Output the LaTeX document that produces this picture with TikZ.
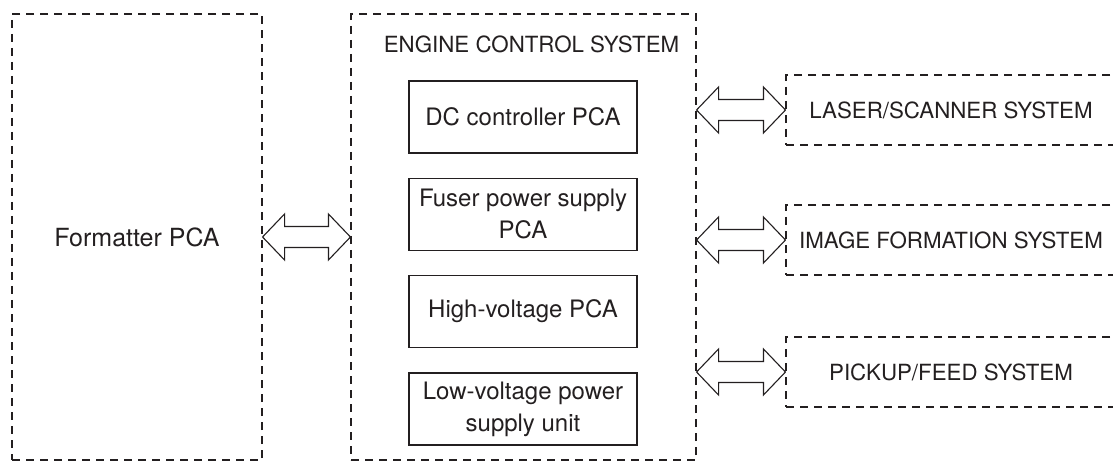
\documentclass[tikz,border=0pt]{standalone}
\usepackage{fontspec}
\setmainfont{TeX Gyre Heros}
\usepackage{tikz}
\usetikzlibrary{positioning, calc}
\definecolor{inkgray}{RGB}{35,31,32}

% hollow two-headed arrow between two points
\newcommand{\bothways}[2]{%
  \draw[dblarr] (#1) -- ++(22,-23) -- ++(0,12.5) -- ($(#2)+(-22,-10.5)$) -- ++(0,-12.5) -- (#2)
    -- ++(-22,23) -- ++(0,-12.5) -- ($(#1)+(22,10.5)$) -- ++(0,12.5) -- cycle;}

\begin{document}
\begin{tikzpicture}[
        x=1pt, y=-1pt,
        every node/.style={font=\fontsize{24}{32}\selectfont, text=inkgray},
        capsfont/.style={font=\fontsize{22.3}{30}\selectfont},
        dashbox/.style={draw=inkgray, line width=1.1pt, dash pattern=on 8pt off 6pt, align=center},
        pcabox/.style={draw=inkgray, line width=1.3pt, minimum width=228pt, minimum height=72pt, align=center, inner sep=2pt},
        sysbox/.style={dashbox, capsfont, minimum width=330pt, minimum height=70pt},
        dblarr/.style={draw=inkgray, line width=1.1pt, fill=white, line join=miter}
    ]
    \useasboundingbox (0,0) rectangle (1113,462);

    % Nodes
    \node[dashbox, minimum width=250pt, minimum height=446pt, font=\fontsize{25}{32}\selectfont] (formatter) at (137,237) {Formatter PCA};
    \node[dashbox, minimum width=345pt, minimum height=446pt] (ecs) at (523.5,237) {};
    \node[capsfont] (ectitle) at ($(ecs.north)+(8,31)$) {ENGINE CONTROL SYSTEM};

    \node[pcabox] (dc) at (523,117) {DC controller PCA};
    \node[pcabox] (fuser) [below=24pt of dc] {Fuser power supply\\PCA};
    \node[pcabox] (hv) [below=24pt of fuser] {High-voltage PCA};
    \node[pcabox] (lv) [below=24pt of hv] {Low-voltage power\\supply unit};

    \node[sysbox] (laser) at (951,110) {LASER/SCANNER SYSTEM};
    \node[sysbox] (image) at (951,240) {IMAGE FORMATION SYSTEM};
    \node[sysbox] (pickup) at (951,372) {PICKUP/FEED SYSTEM};

    \coordinate (toformatter) at (formatter.east |- 0,237);
    \coordinate (toecs) at (ecs.west |- 0,237);
    \coordinate (tolaser) at (ecs.east |- laser.west);
    \coordinate (toimage) at (ecs.east |- image.west);
    \coordinate (topickup) at (ecs.east |- pickup.west);

    % Arrows
    \bothways{toformatter}{toecs}
    \bothways{tolaser}{laser.west}
    \bothways{toimage}{image.west}
    \bothways{topickup}{pickup.west}

\end{tikzpicture}
\end{document}
